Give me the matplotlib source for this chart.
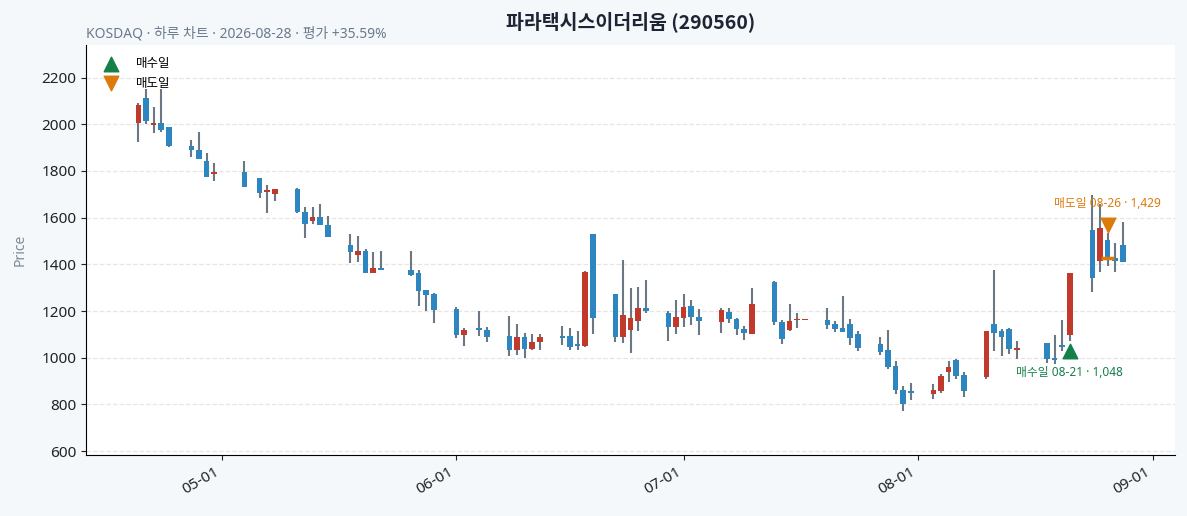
import matplotlib
matplotlib.use("Agg")
import matplotlib.pyplot as plt
import matplotlib.dates as mdates
import numpy as np
import pandas as pd

plt.rcParams['font.family'] = ['Noto Sans', 'Noto Sans CJK KR', 'DejaVu Sans']

# trading days (KRX holidays removed)
start_day = '2026-04-20'
end_day = '2026-08-28'
holidays = ['2026-05-01', '2026-05-05', '2026-05-25', '2026-06-03', '2026-08-17']

opens = [2004, 2111, 1999, 2004, 1987, 1907, 1890, 1843, 1786,
         1795, 1771, 1712, 1700, 1724, 1624, 1584, 1603, 1569, 1481, 1438, 1457, 1364, 1386,
         1374, 1361, 1289, 1271,
         1208, 1099, 1121, 1120, 1092, 1033, 1090, 1037, 1067, 1095, 1093, 1052, 1049, 1529,
         1271, 1087, 1119, 1156, 1214, 1192, 1130,
         1171, 1222, 1175, 1152, 1196, 1166, 1123, 1102, 1325, 1153, 1117, 1160, 1161,
         1160, 1144, 1127, 1144, 1101, 1059, 1033, 964, 864, 851,
         846, 859, 941, 990, 924, 919, 1144, 1114, 1123, 1035,
         1063, 997, 1051, 1099, 1549, 1414, 1503, 1429, 1481]
highs = [2090, 2152, 2073, 2152, 1990, 1933, 1966, 1876, 1836,
         1842, 1771, 1739, 1724, 1726, 1645, 1645, 1658, 1606, 1528, 1520, 1464, 1451, 1457,
         1457, 1374, 1292, 1278,
         1216, 1129, 1200, 1133, 1178, 1143, 1107, 1100, 1100, 1136, 1128, 1115, 1370, 1532,
         1273, 1420, 1300, 1304, 1334, 1199, 1248,
         1274, 1248, 1209, 1214, 1214, 1169, 1136, 1300, 1330, 1162, 1231, 1191, 1164,
         1215, 1157, 1263, 1164, 1114, 1087, 1119, 984, 877, 894,
         886, 929, 984, 993, 939, 1114, 1375, 1125, 1126, 1073,
         1063, 1096, 1160, 1361, 1695, 1657, 1533, 1493, 1583]
lows = [1925, 2001, 1962, 1966, 1903, 1859, 1850, 1776, 1756,
        1731, 1684, 1621, 1671, 1621, 1512, 1573, 1569, 1516, 1404, 1409, 1361, 1364, 1374,
        1349, 1223, 1200, 1150,
        1086, 1052, 1092, 1067, 1009, 1010, 1000, 1034, 1034, 1054, 1033, 1033, 1047, 1102,
        1069, 1063, 1021, 1116, 1192, 1072, 1102,
        1130, 1140, 1097, 1106, 1149, 1097, 1076, 1100, 1140, 1059, 1115, 1128, 1160,
        1125, 1111, 1111, 1056, 1027, 1010, 953, 843, 770, 819,
        823, 851, 896, 911, 831, 907, 1028, 1006, 1016, 993,
        976, 973, 1027, 1073, 1280, 1367, 1391, 1367, 1410]
closes = [2081, 2013, 2003, 1974, 1905, 1888, 1850, 1776, 1795,
          1731, 1704, 1716, 1724, 1623, 1572, 1603, 1569, 1516, 1451, 1457, 1364, 1386, 1374,
          1355, 1287, 1269, 1205,
          1097, 1120, 1119, 1089, 1032, 1089, 1037, 1066, 1090, 1085, 1044, 1050, 1367, 1171,
          1087, 1183, 1171, 1214, 1199, 1130, 1175,
          1218, 1173, 1158, 1205, 1165, 1122, 1108, 1231, 1152, 1080, 1158, 1163, 1163,
          1140, 1124, 1111, 1086, 1043, 1026, 961, 864, 800, 849,
          861, 920, 960, 923, 856, 1114, 1108, 1087, 1036, 1038,
          993, 989, 1048, 1361, 1341, 1556, 1429, 1413, 1412]

buy_date, buy_price = '2026-08-21', 1048
sell_date, sell_price = '2026-08-26', 1429

title = '파라택시스이더리움 (290560)'
subtitle = 'KOSDAQ · 하루 차트 · 2026-08-28 · 평가 +35.59%'

up_color = '#c0392b'
down_color = '#2e86c1'
wick_color = '#6b7785'
buy_color = '#13804a'
sell_color = '#dc7a0a'

dates = pd.bdate_range(start_day, end_day)
dates = dates[~dates.isin(pd.to_datetime(holidays))]
df = pd.DataFrame({'open': opens, 'high': highs, 'low': lows, 'close': closes}, index=dates)

fig = plt.figure(figsize=(11.87, 5.16), dpi=100, facecolor='#f5f8fb')
ax = fig.add_axes([0.0725, 0.118, 0.9174, 0.795])
ax.set_facecolor('white')

x = mdates.date2num(df.index.to_pydatetime())
up = df['close'] >= df['open']
colors = np.where(up, up_color, down_color)

ax.vlines(x, df['low'], df['high'], color=wick_color, linewidth=1.5, zorder=2)
bottom = np.minimum(df['open'], df['close'])
height = np.maximum(np.abs(df['close'] - df['open']), 7)
ax.bar(x, height, bottom=bottom, width=0.75, color=colors, linewidth=0, zorder=3)

# trade markers
bx = mdates.date2num(pd.Timestamp(buy_date))
sx = mdates.date2num(pd.Timestamp(sell_date))
ax.plot([sx - 0.8, sx + 0.8], [sell_price, sell_price], color=sell_color, lw=2.5, zorder=4,
        solid_capstyle='butt')
ax.scatter([bx], [buy_price * 0.98], marker='^', s=110, color=buy_color, zorder=5, label='매수일')
ax.scatter([sx], [sell_price * 1.097], marker='v', s=110, color=sell_color, zorder=5, label='매도일')
ax.text(bx, buy_price * 0.895, '매수일 08-21 · 1,048', color=buy_color, fontsize=8.5,
        ha='center', va='center')
ax.text(sx, sell_price * 1.163, '매도일 08-26 · 1,429', color=sell_color, fontsize=8.5,
        ha='center', va='center')

ax.set_ylim(583, 2340)
ax.set_yticks(np.arange(600, 2201, 200))
ax.xaxis.set_major_locator(mdates.MonthLocator())
ax.xaxis.set_major_formatter(mdates.DateFormatter('%m-%d'))
plt.setp(ax.get_xticklabels(), rotation=30, ha='right')
ax.tick_params(labelsize=11, colors='#222222')

ax.grid(axis='y', linestyle='--', color='#e6e6e6', linewidth=0.9)
ax.set_axisbelow(True)
for side in ['top', 'right']:
    ax.spines[side].set_visible(False)
ax.set_ylabel('Price', color='#7d8a98', fontsize=10, labelpad=10)

ax.legend(loc='upper left', frameon=False, fontsize=9, handletextpad=1.0, borderaxespad=0.6)
ax.set_title(title, fontsize=14, fontweight='bold', color='#1d2433', pad=12,
             family=['Noto Sans CJK KR', 'DejaVu Sans'])
ax.text(0, 1.008, subtitle, transform=ax.transAxes, fontsize=10, color='#6a7a8c',
        ha='left', va='bottom')

fig.savefig('out.png', dpi=100, facecolor=fig.get_facecolor())
